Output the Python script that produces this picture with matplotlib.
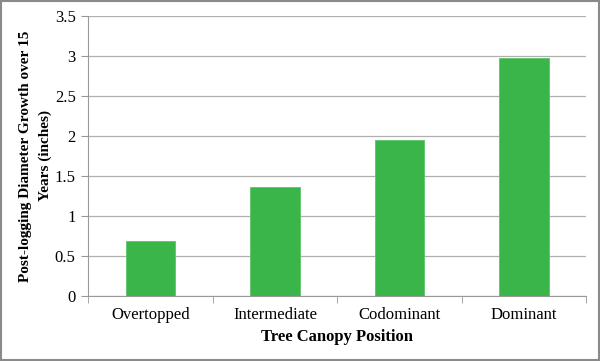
import matplotlib.pyplot as plt
import numpy as np
from matplotlib.patches import Rectangle

categories = ["Overtopped", "Intermediate", "Codominant", "Dominant"]
growth = [0.69, 1.36, 1.95, 2.98]
y_ticks = [0, 0.5, 1, 1.5, 2, 2.5, 3, 3.5]
y_labels = ["0", "0.5", "1", "1.5", "2", "2.5", "3", "3.5"]

plt.rcParams["font.family"] = ["Liberation Serif", "DejaVu Serif"]

fig = plt.figure(figsize=(6, 3.61), dpi=100)
ax = fig.add_axes([0.147, 0.18, 0.83, 0.776])

x = np.arange(len(categories))
ax.bar(x, growth, width=0.4, color="#3ab54a", edgecolor="#5cc56a", linewidth=0.6, zorder=3)

ax.set_xlim(-0.5, len(categories) - 0.5)
ax.set_ylim(0, 3.5)
ax.set_yticks(y_ticks)
ax.set_yticklabels(y_labels, fontsize=12)
ax.set_xticks(x)
ax.set_xticklabels(categories, fontsize=12)
ax.tick_params(axis="x", length=0, pad=8)
ax.set_xticks(np.arange(-0.5, len(categories)), minor=True)
ax.tick_params(axis="x", which="minor", length=5, color="#999999")
ax.tick_params(axis="y", length=5, color="#999999", pad=4)

ax.grid(axis="y", color="#b0b0b0", linewidth=0.9, zorder=0)
for side in ["top", "right"]:
    ax.spines[side].set_visible(False)
ax.spines["left"].set_color("#999999")
ax.spines["bottom"].set_color("#999999")

ax.set_xlabel("Tree Canopy Position", fontsize=12, fontweight="bold", labelpad=4)
ax.set_ylabel("Post-logging Diameter Growth over 15\nYears (inches)", fontsize=11,
              fontweight="bold", labelpad=2, linespacing=1.6)

# outer frame
fig.patches.append(Rectangle((0.002, 0.003), 0.996, 0.994, transform=fig.transFigure,
                             fill=False, edgecolor="#8a8a8a", linewidth=1.5))

fig.savefig("out.png", dpi=100)
